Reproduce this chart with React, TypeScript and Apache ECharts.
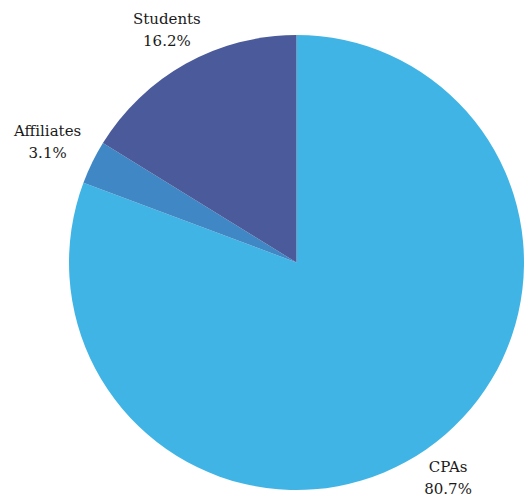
import React, { useEffect, useRef } from "react";
import * as echarts from "echarts";

const categories = ["CPAs", "Affiliates", "Students"];
const values = [80.7, 3.1, 16.2];
const colors = ["#41b4e6", "#3f88c5", "#4a5a9a"];

export default function App() {
  const ref = useRef<HTMLDivElement>(null);
  useEffect(() => {
    if (!ref.current) return;
    const chart = echarts.init(ref.current, undefined, { renderer: "svg" });
    const data = categories.map((name, i) => ({
      name,
      value: values[i],
      itemStyle: { color: colors[i] },
    }));
    const offsets: number[][] = [[0, -3], [-10, -3], [0, 0]];
    chart.setOption({
      animation: false,
      series: [
        {
          type: "pie",
          center: [296.5, 262.5],
          radius: [0, 227.5],
          startAngle: 90,
          clockwise: true,
          silent: true,
          label: { show: false },
          labelLine: { show: false },
          data,
        },
        {
          type: "pie",
          center: [296.5, 262.5],
          radius: [253, 273],
          startAngle: 90,
          clockwise: true,
          silent: true,
          itemStyle: { color: "transparent" },
          labelLine: { show: false },
          label: {
            show: true,
            position: "inside",
            fontFamily: "DejaVu Serif",
            fontSize: 15,
            lineHeight: 22,
            color: "#1a1a1a",
            align: "center",
            formatter: (p: any) => `${p.name}\n${Number(p.value).toFixed(1)}%`,
          },
          data: data.map((d, i) => ({
            ...d,
            itemStyle: { color: "transparent" },
            label: { offset: offsets[i] },
          })),
        },
      ],
    });
    return () => chart.dispose();
  }, []);
  return (
    <div
      ref={ref}
      style={{ position: "fixed", left: 0, top: 0, width: 531, height: 497, background: "#fff" }}
    />
  );
}
